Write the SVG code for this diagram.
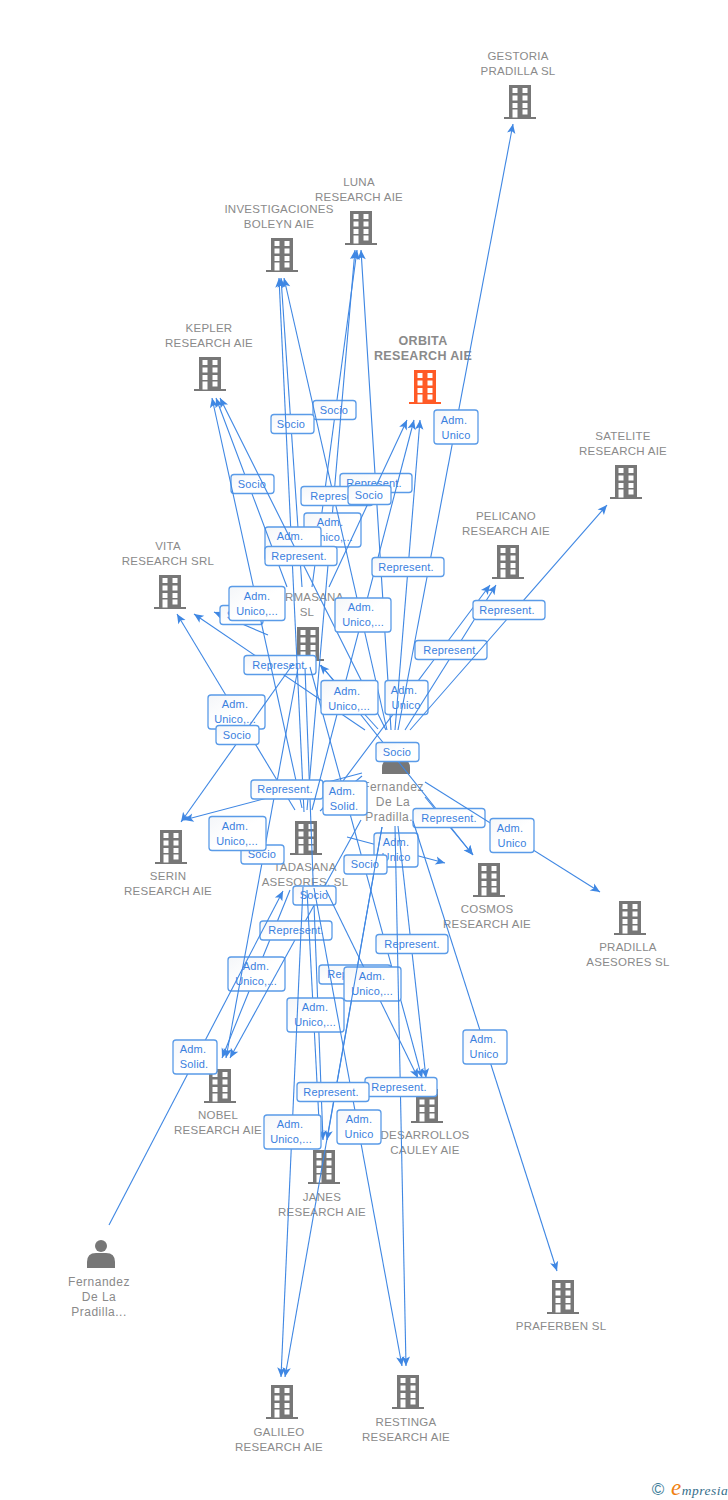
<svg xmlns="http://www.w3.org/2000/svg" width="728" height="1500" viewBox="0 0 728 1500">
<style>
.e{stroke:#3f87e3;stroke-width:1.1;fill:none;marker-end:url(#a)}
.b{fill:url(#g);stroke:#5a9be8;stroke-width:1.3}
.t{font:11px "Liberation Sans",Arial,sans-serif;fill:#3a80de;text-anchor:middle;letter-spacing:.15px}
.n{font:11.5px "Liberation Sans",Arial,sans-serif;fill:#8a8a8a;text-anchor:middle;letter-spacing:.25px}
.o{font:bold 12.5px "Liberation Sans",Arial,sans-serif;fill:#8a8a8a;text-anchor:middle;letter-spacing:.35px}
.p{font:12px "Liberation Sans",Arial,sans-serif;fill:#8a8a8a;text-anchor:middle;letter-spacing:.5px}
.h{fill:#fff}
</style>
<defs>
<linearGradient id="g" x1="0" y1="0" x2="1" y2="1"><stop offset="0" stop-color="#f4f6f9"/><stop offset=".5" stop-color="#fff"/><stop offset="1" stop-color="#fff"/></linearGradient>
<marker id="a" markerUnits="userSpaceOnUse" markerWidth="12" markerHeight="12" refX="10" refY="5" orient="auto"><path d="M0.5,0.8 L10,5 L0.5,9.2 L2.8,5 z" fill="#3f87e3"/></marker>
<symbol id="bld" overflow="visible"><path d="M-11,-17 H11 V15 H16 V17 H-16 V15 H-11 Z" fill="currentColor"/><g class="h"><rect x="-7.500" y="-14" width="5" height="5"/><rect x="2.500" y="-14" width="5" height="5"/><rect x="-7.500" y="-6.500" width="5" height="5"/><rect x="2.500" y="-6.500" width="5" height="5"/><rect x="-7.500" y="1" width="5" height="5"/><rect x="2.500" y="1" width="5" height="5"/><rect x="-7.500" y="7.500" width="5" height="8"/><rect x="2.500" y="7.500" width="5" height="5"/></g></symbol>
<symbol id="per" overflow="visible"><circle cx="0" cy="-8" r="6" fill="#777"/><path d="M-14,14 V8 Q-14,-1 -5,-1 H5 Q14,-1 14,8 V14 Z" fill="#777"/></symbol>
</defs>
<rect width="728" height="1500" fill="#fff"/>
<g id="nodes" color="#777">
<g id="gestoria"><use href="#bld" x="520" y="102"/><text class="n" x="518" y="60">GESTORIA</text><text class="n" x="518" y="75">PRADILLA SL</text></g>
<g id="luna"><use href="#bld" x="361" y="228"/><text class="n" x="359" y="186">LUNA</text><text class="n" x="359" y="201">RESEARCH AIE</text></g>
<g id="investigaciones"><use href="#bld" x="282" y="255"/><text class="n" x="279" y="213">INVESTIGACIONES</text><text class="n" x="279" y="228">BOLEYN AIE</text></g>
<g id="kepler"><use href="#bld" x="210" y="374"/><text class="n" x="209" y="332">KEPLER</text><text class="n" x="209" y="347">RESEARCH AIE</text></g>
<g id="orbita" color="#ff5a26"><use href="#bld" x="425" y="387"/><text class="o" x="423" y="345">ORBITA</text><text class="o" x="423" y="360">RESEARCH AIE</text></g>
<g id="satelite"><use href="#bld" x="626" y="482"/><text class="n" x="623" y="440">SATELITE</text><text class="n" x="623" y="455">RESEARCH AIE</text></g>
<g id="pelicano"><use href="#bld" x="508" y="562"/><text class="n" x="506" y="520">PELICANO</text><text class="n" x="506" y="535">RESEARCH AIE</text></g>
<g id="vita"><use href="#bld" x="170" y="592"/><text class="n" x="168" y="550">VITA</text><text class="n" x="168" y="565">RESEARCH SRL</text></g>
<g id="farmasana"><use href="#bld" x="308" y="644"/><text class="n" x="307" y="601">FARMASANA</text><text class="n" x="307" y="616">SL</text></g>
<g id="tadasana"><use href="#bld" x="306" y="838"/><text class="n" x="305" y="871">TADASANA</text><text class="n" x="305" y="886">ASESORES, SL</text></g>
<g id="serin"><use href="#bld" x="171" y="847"/><text class="n" x="168" y="880">SERIN</text><text class="n" x="168" y="895">RESEARCH AIE</text></g>
<g id="cosmos"><use href="#bld" x="489" y="880"/><text class="n" x="487" y="913">COSMOS</text><text class="n" x="487" y="928">RESEARCH AIE</text></g>
<g id="pradilla"><use href="#bld" x="630" y="918"/><text class="n" x="628" y="951">PRADILLA</text><text class="n" x="628" y="966">ASESORES SL</text></g>
<g id="nobel"><use href="#bld" x="220" y="1086"/><text class="n" x="218" y="1119">NOBEL</text><text class="n" x="218" y="1134">RESEARCH AIE</text></g>
<g id="desarrollos"><use href="#bld" x="427" y="1106"/><text class="n" x="425" y="1139">DESARROLLOS</text><text class="n" x="425" y="1154">CAULEY AIE</text></g>
<g id="janes"><use href="#bld" x="324" y="1167"/><text class="n" x="322" y="1201">JANES</text><text class="n" x="322" y="1216">RESEARCH AIE</text></g>
<g id="praferben"><use href="#bld" x="563" y="1297"/><text class="n" x="561" y="1330">PRAFERBEN SL</text></g>
<g id="galileo"><use href="#bld" x="282" y="1402"/><text class="n" x="279" y="1436">GALILEO</text><text class="n" x="279" y="1451">RESEARCH AIE</text></g>
<g id="restinga"><use href="#bld" x="408" y="1392"/><text class="n" x="406" y="1426">RESTINGA</text><text class="n" x="406" y="1441">RESEARCH AIE</text></g>
<g id="fernandez-1"><use href="#per" x="396" y="760"/><text class="p" x="393" y="791">Fernandez</text><text class="p" x="393" y="806">De La</text><text class="p" x="393" y="821">Pradilla...</text></g>
<g id="fernandez-2"><use href="#per" x="101" y="1254"/><text class="p" x="99" y="1286">Fernandez</text><text class="p" x="99" y="1301">De La</text><text class="p" x="99" y="1316">Pradilla...</text></g>
</g>
<g id="connectors">
<path class="e" d="M321,665L473,855"/><rect class="b" x="376" y="742.500" width="43" height="19" rx="3"/><text class="t" x="397" y="755.500">Socio</text>
<path class="e" d="M347,837L445,863"/><rect class="b" x="374" y="833" width="44" height="34" rx="3"/><text class="t" x="396" y="846">Adm.</text><text class="t" x="396" y="861">Unico</text>
<path class="e" d="M425,797L473,855"/><rect class="b" x="413" y="808.500" width="72" height="19" rx="3"/><text class="t" x="449" y="822">Represent.</text>
<path class="e" d="M268,635L214,612"/><rect class="b" x="220" y="605.500" width="43" height="19" rx="3"/><text class="t" x="241" y="619">Socio</text>
<path class="e" d="M295,810L177,614"/><rect class="b" x="208" y="695" width="57" height="34" rx="3"/><text class="t" x="235" y="708">Adm.</text><text class="t" x="235" y="723">Unico,...</text>
<path class="e" d="M365,730L194,614"/><rect class="b" x="244" y="655.500" width="72" height="19" rx="3"/><text class="t" x="280" y="669">Represent.</text>
<path class="e" d="M290,890L222,1058"/><rect class="b" x="228" y="957" width="57" height="34" rx="3"/><text class="t" x="256" y="970">Adm.</text><text class="t" x="256" y="985">Unico,...</text>
<path class="e" d="M298,668L226,1058"/><rect class="b" x="241" y="845" width="43" height="19" rx="3"/><text class="t" x="262" y="858">Socio</text>
<path class="e" d="M361,820L230,1058"/><rect class="b" x="260" y="921" width="72" height="19" rx="3"/><text class="t" x="296" y="934">Represent.</text>
<path class="e" d="M305,668L323,1140"/><rect class="b" x="293" y="886" width="43" height="19" rx="3"/><text class="t" x="314" y="899">Socio</text>
<path class="e" d="M307,890L320,1140"/><rect class="b" x="287" y="998" width="57" height="34" rx="3"/><text class="t" x="315" y="1011">Adm.</text><text class="t" x="315" y="1026">Unico,...</text>
<path class="e" d="M382,827L327,1140"/><rect class="b" x="319" y="965" width="72" height="19" rx="3"/><text class="t" x="355" y="978">Represent.</text>
<path class="e" d="M310,667L422,1078"/><rect class="b" x="344" y="855" width="43" height="19" rx="3"/><text class="t" x="365" y="868">Socio</text>
<path class="e" d="M326,890L418,1078"/><rect class="b" x="344" y="967" width="57" height="34" rx="3"/><text class="t" x="372" y="980">Adm.</text><text class="t" x="372" y="995">Unico,...</text>
<path class="e" d="M398,826L426,1078"/><rect class="b" x="376" y="934.500" width="72" height="19" rx="3"/><text class="t" x="412" y="947.500">Represent.</text>
<path class="e" d="M314,888L402,1366"/><rect class="b" x="337" y="1110" width="44" height="34" rx="3"/><text class="t" x="359" y="1123">Adm.</text><text class="t" x="359" y="1138">Unico</text>
<path class="e" d="M395,826L406,1366"/><rect class="b" x="365" y="1077.500" width="72" height="19" rx="3"/><text class="t" x="399" y="1091">Represent.</text>
<path class="e" d="M303,887L281,1377"/><rect class="b" x="264" y="1115" width="57" height="34" rx="3"/><text class="t" x="290" y="1128">Adm.</text><text class="t" x="291" y="1143">Unico,...</text>
<path class="e" d="M382,827L285,1377"/><rect class="b" x="297" y="1082.500" width="72" height="19" rx="3"/><text class="t" x="331" y="1096">Represent.</text>
<path class="e" d="M312,587L357,250"/><rect class="b" x="313" y="400.500" width="43" height="19" rx="3"/><text class="t" x="334" y="414">Socio</text>
<path class="e" d="M307,810L355,250"/><rect class="b" x="304" y="513" width="57" height="34" rx="3"/><text class="t" x="330" y="526">Adm.</text><text class="t" x="332" y="541">Unico,...</text>
<path class="e" d="M391,730L361,250"/><rect class="b" x="340" y="473.500" width="72" height="19" rx="3"/><text class="t" x="374" y="487">Represent.</text>
<path class="e" d="M302,587L281,278"/><rect class="b" x="271" y="414.500" width="43" height="19" rx="3"/><text class="t" x="291" y="428">Socio</text>
<path class="e" d="M304,812L279,278"/><rect class="b" x="265" y="527" width="56" height="34" rx="3"/><text class="t" x="290" y="540">Adm.</text><text class="t" x="290" y="555">Unico,...</text>
<path class="e" d="M387,730L284,278"/><rect class="b" x="301" y="486.500" width="72" height="19" rx="3"/><text class="t" x="338" y="500">Represent.</text>
<path class="e" d="M287,587L216,398"/><rect class="b" x="231" y="474.500" width="43" height="19" rx="3"/><text class="t" x="252" y="487.500">Socio</text>
<path class="e" d="M302,808L212,398"/><rect class="b" x="229" y="586.500" width="56" height="34" rx="3"/><text class="t" x="257" y="600">Adm.</text><text class="t" x="257" y="615">Unico,...</text>
<path class="e" d="M386,730L220,398"/><rect class="b" x="265" y="546.500" width="72" height="19" rx="3"/><text class="t" x="299" y="560">Represent.</text>
<path class="e" d="M293,664L181,822"/><rect class="b" x="216" y="725.500" width="43" height="19" rx="3"/><text class="t" x="237" y="739">Socio</text>
<path class="e" d="M362,773L184,820"/><rect class="b" x="251" y="780" width="72" height="19" rx="3"/><text class="t" x="285" y="793">Represent.</text>
<rect class="b" x="209" y="816.500" width="57" height="34" rx="3"/><text class="t" x="235" y="830">Adm.</text><text class="t" x="237" y="845">Unico,...</text>
<path class="e" d="M322,809L490,585"/><rect class="b" x="385" y="680.500" width="43" height="34" rx="3"/><text class="t" x="404" y="694">Adm.</text><text class="t" x="406" y="709">Unico</text>
<path class="e" d="M405,730L496,585"/><rect class="b" x="415" y="640.500" width="72" height="19" rx="3"/><text class="t" x="451" y="653.500">Represent.</text>
<path class="e" d="M398,730L513,124"/><rect class="b" x="434" y="410" width="44" height="34" rx="3"/><text class="t" x="454" y="424">Adm.</text><text class="t" x="456" y="439">Unico</text>
<path class="e" d="M410,730L607,505"/><rect class="b" x="473" y="600.500" width="72" height="19" rx="3"/><text class="t" x="507" y="614">Represent.</text>
<path class="e" d="M312,810L414,420"/><rect class="b" x="335" y="598" width="56" height="34" rx="3"/><text class="t" x="361" y="611">Adm.</text><text class="t" x="363" y="626">Unico,...</text>
<path class="e" d="M395,730L420,420"/><rect class="b" x="372" y="557.500" width="72" height="19" rx="3"/><text class="t" x="406" y="571">Represent.</text>
<path class="e" d="M329,587L407,420"/><rect class="b" x="348" y="485.500" width="43" height="19" rx="3"/><text class="t" x="369" y="499">Socio</text>
<path class="e" d="M378,729L320,665"/><rect class="b" x="321" y="680.500" width="57" height="34" rx="3"/><text class="t" x="347" y="695">Adm.</text><text class="t" x="349" y="710">Unico,...</text>
<path class="e" d="M362,776L320,811" style="marker-end:none"/><rect class="b" x="323" y="781" width="44" height="34" rx="3"/><text class="t" x="342" y="795">Adm.</text><text class="t" x="344" y="810">Solid.</text>
<path class="e" d="M425,782L600,892"/><rect class="b" x="490" y="818.500" width="44" height="34" rx="3"/><text class="t" x="510" y="832">Adm.</text><text class="t" x="512" y="847">Unico</text>
<path class="e" d="M413,821L557,1271"/><rect class="b" x="463" y="1030" width="44" height="34" rx="3"/><text class="t" x="483" y="1043">Adm.</text><text class="t" x="484" y="1058">Unico</text>
<path class="e" d="M109,1225L283,891"/><rect class="b" x="173" y="1040" width="44" height="34" rx="3"/><text class="t" x="193" y="1053">Adm.</text><text class="t" x="194" y="1068">Solid.</text>
</g>
<g id="logo"><text x="658" y="1495" style="font:17px 'Liberation Sans',Arial,sans-serif;fill:#3c7d99;text-anchor:middle">©</text><text x="671" y="1495" style="font:italic 13.5px 'Liberation Serif',serif;fill:#356e8a;letter-spacing:.5px"><tspan style="font-size:23px;fill:#f08010">e</tspan>mpresia</text></g>
</svg>
